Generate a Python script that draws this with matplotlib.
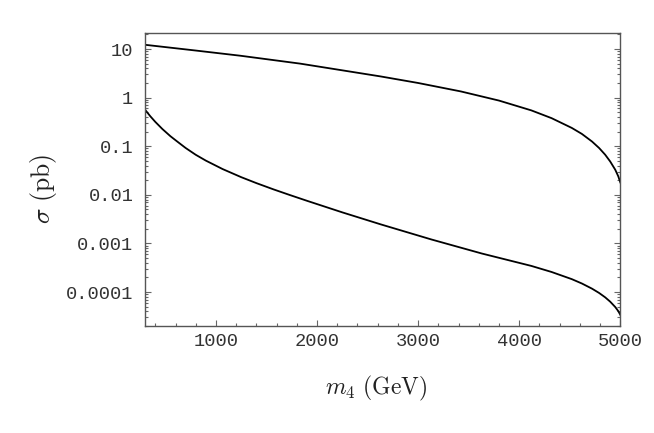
import matplotlib
matplotlib.use('Agg')
import matplotlib.pyplot as plt
from matplotlib.ticker import FixedLocator, LogLocator, NullFormatter, MultipleLocator

plt.rcParams['mathtext.fontset'] = 'cm'

# values (m4 in GeV, sigma in pb)
m_upper = [300, 800, 1240, 1834, 2628, 3000, 3423, 3800, 4120, 4320, 4520, 4620,
           4720, 4790, 4850, 4900, 4950, 4980, 5000]
sigma_upper = [12.2, 9.3, 7.28, 5.0, 2.73, 2.0, 1.34, 0.869, 0.546, 0.378, 0.238, 0.179,
               0.125, 0.092, 0.067, 0.0485, 0.0328, 0.024, 0.018]

m_lower = [300, 350, 400, 470, 550, 620, 700, 800, 900, 1066, 1250, 1400, 1570, 1730,
           1900, 2250, 2630, 3130, 3630, 4120, 4320, 4520, 4620, 4720, 4790, 4850,
           4900, 4950, 4980, 5000]
sigma_lower = [0.56, 0.415, 0.317, 0.226, 0.1605, 0.1236, 0.0921, 0.0667, 0.0506, 0.0339,
               0.0231, 0.01743, 0.01294, 0.00993, 0.00755, 0.00436, 0.00247, 0.00121,
               0.000621, 0.000345, 0.000259, 0.0001845, 0.00015, 0.0001175, 9.59e-5,
               7.80e-5, 6.34e-5, 4.92e-5, 4.05e-5, 3.40e-5]

x_ticks = [1000, 2000, 3000, 4000, 5000]
y_ticks = [1e-4, 1e-3, 1e-2, 1e-1, 1, 10]
y_tick_labels = ['0.0001', '0.001', '0.01', '0.1', '1', '10']

fig = plt.figure(figsize=(6.54, 4.33), dpi=100)
ax = fig.add_axes([0.222, 0.247, 0.7265, 0.676])

ax.plot(m_upper, sigma_upper, color='black', lw=1.3)
ax.plot(m_lower, sigma_lower, color='black', lw=1.3)

ax.set_yscale('log')
ax.set_xlim(300, 5000)
ax.set_ylim(2.0e-5, 21)

ax.xaxis.set_major_locator(FixedLocator(x_ticks))
ax.xaxis.set_minor_locator(MultipleLocator(200))
ax.set_xticklabels([str(t) for t in x_ticks])
ax.yaxis.set_major_locator(FixedLocator(y_ticks))
ax.set_yticklabels(y_tick_labels)
ax.yaxis.set_minor_locator(LogLocator(base=10, subs=range(2, 10), numticks=20))
ax.yaxis.set_minor_formatter(NullFormatter())

ax.tick_params(which='both', direction='in', top=False, right=True, color='#666666', width=0.8)
ax.tick_params(which='major', length=4.5)
ax.tick_params(which='minor', length=2.5)
ax.tick_params(axis='y', which='major', pad=8.5)
ax.tick_params(axis='x', which='major', pad=5)
for lab in ax.get_xticklabels() + ax.get_yticklabels():
    lab.set_fontfamily('Liberation Mono')
    lab.set_fontsize(13.5)
    lab.set_color('#333333')

for s in ax.spines.values():
    s.set_color('#555555')
    s.set_linewidth(1.0)

ax.set_xlabel(r'$m_4\ \mathrm{(GeV)}$', fontsize=17, color='#222222')
ax.xaxis.set_label_coords(0.486, -0.165)
ax.set_ylabel(r'$\sigma\ \mathrm{(pb)}$', fontsize=18.5, color='#222222', va='center')
ax.yaxis.set_label_coords(-0.215, 0.47)

fig.savefig('out.png', dpi=100)
